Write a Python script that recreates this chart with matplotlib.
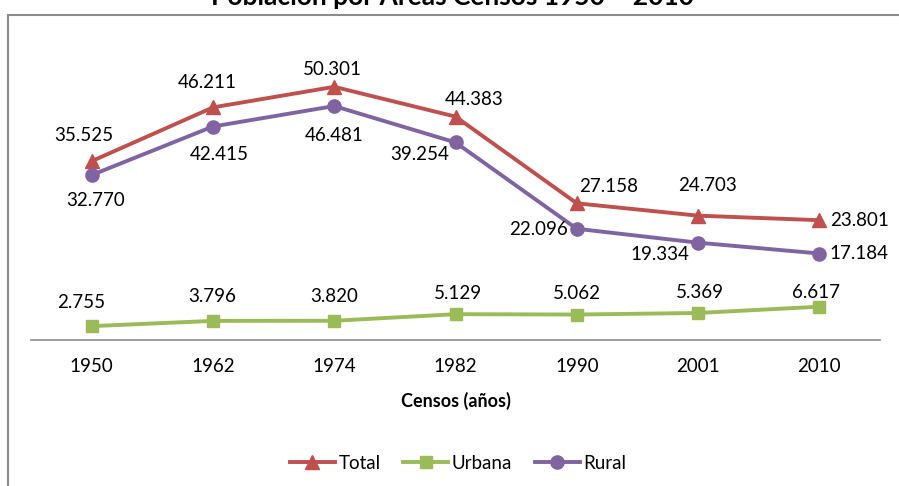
import matplotlib.pyplot as plt
from matplotlib.patches import Rectangle

plt.rcParams['font.family'] = ['Lato', 'DejaVu Sans']

years = ['1950', '1962', '1974', '1982', '1990', '2001', '2010']
total = [35.525, 46.211, 50.301, 44.383, 27.158, 24.703, 23.801]
urbana = [2.755, 3.796, 3.820, 5.129, 5.062, 5.369, 6.617]
rural = [32.770, 42.415, 46.481, 39.254, 22.096, 19.334, 17.184]

# label offsets in pixels relative to each marker
total_off = [(-8, 26), (-6, 25), (-2, 17), (19, 17), (32, 17), (9, 30), (40, 0)]
urbana_off = [(-10, 24), (-1, 24), (0, 24), (2, 21), (0, 21), (2, 20), (-3, 14)]
rural_off = [(4, -25), (6, -28), (0, -29), (-36, -12), (-38, -1), (-38, -12), (40, 0)]

def fmt(v):
    return f'{v:.3f}'

fig = plt.figure(figsize=(8.99, 4.86), dpi=100)
ax = fig.add_axes([31 / 899, 1 - 340 / 486, 849 / 899, 302 / 486])

x = range(len(years))
series = [
    ('Total', total, '#C0504D', '^', 10, total_off),
    ('Urbana', urbana, '#9BBB59', 's', 9, urbana_off),
    ('Rural', rural, '#8064A2', 'o', 9.5, rural_off),
]
for name, vals, color, mk, ms, offs in series:
    ax.plot(x, vals, color=color, lw=2.8, marker=mk, ms=ms, label=name, clip_on=False)
    for xi, v, off in zip(x, vals, offs):
        ax.annotate(fmt(v), (xi, v), xytext=off, textcoords='offset pixels',
                    ha='center', va='center', fontsize=13.5, color='black')

ax.set_xlim(-0.5, len(years) - 0.5)
ax.set_ylim(0, 60)
ax.set_xticks(list(x))
ax.set_xticklabels(years, fontsize=13.5)
ax.tick_params(axis='x', length=0, pad=13)
ax.set_yticks([])
for s in ['top', 'right', 'left']:
    ax.spines[s].set_visible(False)
ax.spines['bottom'].set_color('#8c8c8c')
ax.spines['bottom'].set_linewidth(1.2)
ax.set_xlabel('Censos (años)', fontsize=13, fontweight='bold', labelpad=12)

fig.legend(loc='center', bbox_to_anchor=(458 / 899, 1 - 463 / 486), ncol=3, frameon=False,
           fontsize=13.5, handlelength=2.4, columnspacing=1.2, handletextpad=0.2)

fig.text(452 / 899, 1 - 5 / 486, 'Población por Áreas Censos 1950 – 2010', ha='center',
         va='baseline', fontsize=19, fontweight='bold')

fig.patches.append(Rectangle((8 / 899, -0.2), 1.2, 1.2 + (1 - 15 / 486) - 1, transform=fig.transFigure,
                             fill=False, edgecolor='#8c8c8c', lw=1.5))

fig.savefig('out.png', dpi=100)
